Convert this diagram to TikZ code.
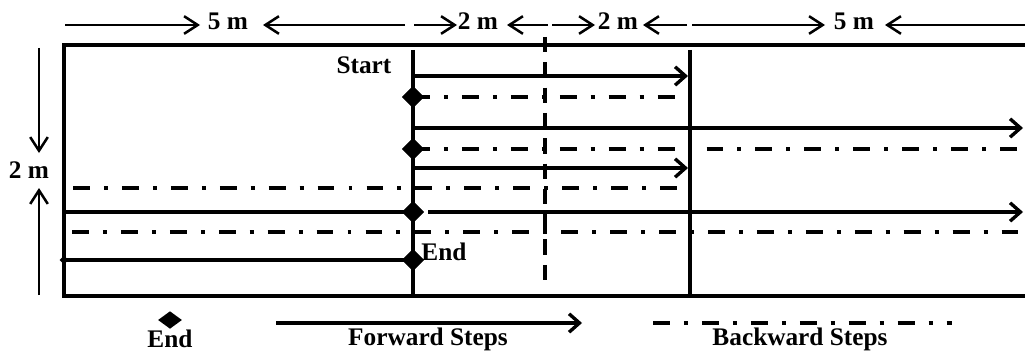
\documentclass[tikz,border=0pt]{standalone}
\usepackage{fontspec}
\setmainfont{Liberation Serif}
\usetikzlibrary{shapes.geometric,arrows.meta}

\tikzset{cadre/.style = {line width=2.8pt},
         avance/.style = {line width=2.4pt, -{Straight Barb[length=2.6mm,width=4.6mm]}},
         recul/.style = {line width=2.8pt, dash pattern=on 12pt off 10pt on 2.8pt off 10pt},
         axe/.style = {line width=2.6pt, dash pattern=on 11pt off 7pt},
         cote/.style = {line width=1.8pt, -{Straight Barb[length=3.4mm,width=4.4mm]}},
         fin/.style = {diamond, fill, draw=none, inner sep=0,
                       minimum width=#1, minimum height=#1},
         fin/.default=5.5mm,
         texte/.style = {font=\fontsize{18}{20}\selectfont\bfseries, inner sep=0}
        }

\begin{document}
\begin{tikzpicture}[x=0.25mm,y=-0.25mm]
\useasboundingbox (0,0) rectangle (1025,354);
% la piste
\draw[cadre] (1025,45) -- (64,45) -- (64,296) -- (1025,296);
\draw[cadre] (413,50) -- (413,296);
\draw[cadre] (690,50) -- (690,296);
\draw[axe] (545,37) -- (545,280);
% les cotes
\coordinate (h1) at (65,25);  \coordinate (h2) at (200,25);
\coordinate (h3) at (405,25); \coordinate (h4) at (263,25);
\coordinate (h5) at (414,25); \coordinate (h6) at (457,25);
\coordinate (h7) at (548,25); \coordinate (h8) at (507,25);
\coordinate (h9) at (552,25); \coordinate (h10) at (595,25);
\coordinate (h11) at (687,25); \coordinate (h12) at (643,25);
\coordinate (h13) at (692,25); \coordinate (h14) at (825,25);
\coordinate (h15) at (1025,25); \coordinate (h16) at (885,25);
\coordinate (v1) at (39,48);  \coordinate (v2) at (39,153);
\coordinate (v3) at (39,295); \coordinate (v4) at (39,188);
\node[texte] at (228,21) (l1) {5 m};
\node[texte] at (478,21) (l2) {2 m};
\node[texte] at (618,21) (l3) {2 m};
\node[texte] at (854,21) (l4) {5 m};
\node[texte] at (29,170) (l5) {2 m};
\draw[cote] (h1) -- (h2);
\draw[cote] (h3) -- (h4);
\draw[cote] (h5) -- (h6);
\draw[cote] (h7) -- (h8);
\draw[cote] (h9) -- (h10);
\draw[cote] (h11) -- (h12);
\draw[cote] (h13) -- (h14);
\draw[cote] (h15) -- (h16);
\draw[cote] (v1) -- (v2);
\draw[cote] (v3) -- (v4);
% les pas
\coordinate (a1) at (413,76);  \coordinate (b1) at (688,76);
\coordinate (b2) at (690,97);
\coordinate (a3) at (413,128); \coordinate (b3) at (1023,128);
\coordinate (b4) at (1025,149);
\coordinate (a5) at (413,168); \coordinate (b5) at (688,168);
\coordinate (a6) at (73,188);  \coordinate (b6) at (690,188);
\coordinate (a7) at (64,212);  \coordinate (c7) at (428,212);
\coordinate (b7) at (1023,212);
\coordinate (a8) at (72,232);  \coordinate (b8) at (1025,232);
\node[fin] at (413,97) (f2) {};
\node[fin] at (413,149) (f4) {};
\node[fin] at (413,212) (f7) {};
\node[fin] at (413,260) (f9) {};
\node[fin=2.2mm] at (64,260) (d9) {};
\draw[avance] (a1) -- (b1);
\draw[recul] (f2.center) -- (b2);
\draw[avance] (a3) -- (b3);
\draw[recul] (f4.center) -- (b4);
\draw[avance] (a5) -- (b5);
\draw[recul] (a6) -- (b6);
\draw[cadre, line width=2.4pt] (a7) -- (f7.center);
\draw[avance] (c7) -- (b7);
\draw[recul] (a8) -- (b8);
\draw[cadre, line width=2.4pt] (d9.center) -- (f9.center);
\node[fin] at (413,97) {};
\node[fin] at (413,149) {};
\node[fin] at (413,212) {};
\node[fin] at (413,260) {};
\node[texte] at (364,65) (debut) {Start};
\node[texte] at (444,252) (arrivee) {End};
% la legende
\node[fin, minimum width=6mm, minimum height=4.4mm] at (170,320) (lf) {};
\node[texte] at (170,339) (tf) {End};
\coordinate (p1) at (276,323); \coordinate (p2) at (582,323);
\coordinate (r1) at (653,323); \coordinate (r2) at (952,323);
\draw[avance] (p1) -- (p2);
\draw[recul] (r1) -- (r2);
\node[texte] at (428,339) (tp) {Forward Steps};
\node[texte] at (800,339) (tr) {Backward Steps};
\end{tikzpicture}
\end{document}
